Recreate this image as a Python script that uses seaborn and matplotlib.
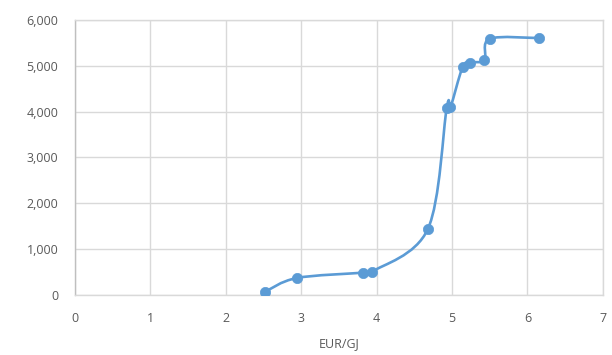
import numpy as np
import pandas as pd
import matplotlib
matplotlib.use("Agg")
import matplotlib.pyplot as plt
from matplotlib.path import Path
from matplotlib.patches import PathPatch
import seaborn as sns

# Supply curve: price (EUR/GJ) against cumulative volume
price = [2.52, 2.94, 3.82, 3.94, 4.68, 4.93, 4.98, 5.14, 5.24, 5.43, 5.50, 6.16]
volume = [70, 370, 487, 509, 1440, 4080, 4100, 4970, 5072, 5131, 5590, 5605]

x_ticks = [0, 1, 2, 3, 4, 5, 6, 7]
y_ticks = [0, 1000, 2000, 3000, 4000, 5000, 6000]
x_label = "EUR/GJ"

df = pd.DataFrame({"price": price, "volume": volume})

BLUE = "#5B9BD5"
GRID = "#D9D9D9"
TEXT = "#595959"

sns.set_theme(style="white")
plt.rcParams["font.family"] = ["Open Sans", "DejaVu Sans"]

fig = plt.figure(figsize=(6.12, 3.55), dpi=100)
ax = fig.add_axes([0.1225, 0.169, 0.8625, 0.7747])

# Smoothed connecting line as cubic Bezier segments (Catmull-Rom style tangents)
pts = np.column_stack([df["price"], df["volume"]]).astype(float)
verts = [tuple(pts[0])]
codes = [Path.MOVETO]
n = len(pts)
for i in range(n - 1):
    p0 = pts[i - 1] if i > 0 else pts[i]
    p1 = pts[i]
    p2 = pts[i + 1]
    p3 = pts[i + 2] if i + 2 < n else pts[i + 1]
    c1 = p1 + (p2 - p0) / 6.0
    c2 = p2 - (p3 - p1) / 6.0
    verts += [tuple(c1), tuple(c2), tuple(p2)]
    codes += [Path.CURVE4, Path.CURVE4, Path.CURVE4]
ax.add_patch(PathPatch(Path(verts, codes), facecolor="none", edgecolor=BLUE,
                       lw=1.9, zorder=3, capstyle="round", joinstyle="round"))

sns.scatterplot(data=df, x="price", y="volume", ax=ax, color=BLUE, s=55,
                edgecolor=BLUE, linewidth=0.5, zorder=4, legend=False)

ax.set_xlim(0, 7)
ax.set_ylim(0, 6000)
ax.set_xticks(x_ticks)
ax.set_yticks(y_ticks)
ax.set_xticklabels([str(t) for t in x_ticks])
ax.set_yticklabels([f"{t:,}" for t in y_ticks])
ax.grid(True, color=GRID, lw=1.0, zorder=0)
ax.set_axisbelow(True)
for s in ax.spines.values():
    s.set_color(GRID)
    s.set_linewidth(1.0)
ax.spines["left"].set_color("#BFBFBF")

ax.tick_params(axis="both", length=0, labelsize=9, labelcolor=TEXT)
ax.tick_params(axis="x", pad=12)
ax.tick_params(axis="y", pad=12)
ax.set_xlabel(x_label, fontsize=9, color=TEXT, labelpad=9)
ax.set_ylabel("")

fig.savefig("out.png", dpi=100, facecolor="white")
